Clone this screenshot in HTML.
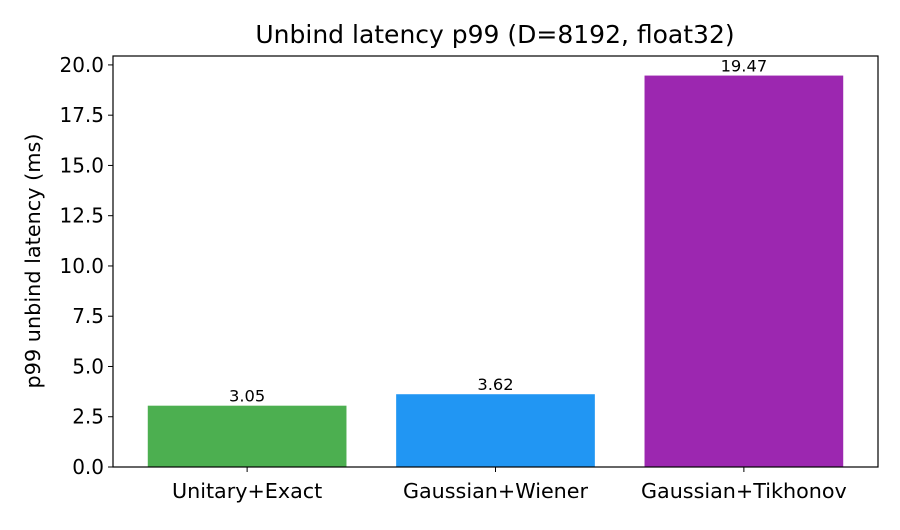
<!DOCTYPE html>
<html><head><meta charset="utf-8"><style>
body{margin:0;background:#fff}
svg text{font-family:"DejaVu Sans","Liberation Sans",sans-serif}
</style></head><body>
<svg id="chart" width="900" height="525" xmlns="http://www.w3.org/2000/svg">
<rect width="900" height="525" fill="#fff"/>
<text x="495" y="43" text-anchor="middle" font-size="25" fill="#000">Unbind latency p99 (D=8192, float32)</text>
<text transform="translate(40,261) rotate(-90)" text-anchor="middle" font-size="20.8" fill="#000">p99 unbind latency (ms)</text>
<g id="plot"></g>
<rect x="113" y="56" width="765" height="411" fill="none" stroke="#000" stroke-width="1.2"/>
</svg>
<script>
const categories = ["Unitary+Exact","Gaussian+Wiener","Gaussian+Tikhonov"];
const values = [3.05, 3.62, 19.47];
const valueLabels = ["3.05","3.62","19.47"];
const colors = ["#4caf50","#2196f3","#9c27b0"];
const yTicks = [0,2.5,5,7.5,10,12.5,15,17.5,20];
const yTickLabels = ["0.0","2.5","5.0","7.5","10.0","12.5","15.0","17.5","20.0"];

const L=113,R=878,T=56,B=467;
const ymax = Math.max(...values)*1.05;
const y = v => B - v/ymax*(B-T);
const xmin=-0.54, xmax=categories.length-1+0.54;
const x = i => L + (i-xmin)/(xmax-xmin)*(R-L);
const bw = 0.8*(R-L)/(xmax-xmin);
const ns="http://www.w3.org/2000/svg";
const g=document.getElementById('plot');
function mk(tag,attrs){const e=document.createElementNS(ns,tag);for(const k in attrs)e.setAttribute(k,attrs[k]);g.appendChild(e);return e;}
yTicks.forEach((t,i)=>{
  const yy=y(t);
  const l=mk('line',{x1:L-5,x2:L,y1:yy,y2:yy,stroke:'#000'});
  
  
  const tx=mk('text',{x:L-9,y:yy+7,'text-anchor':'end','font-size':'20',fill:'#000'});
  tx.textContent=yTickLabels[i];
  
  
});
categories.forEach((c,i)=>{
  const cx=x(i);
  const r=mk('rect',{x:cx-bw/2,y:y(values[i]),width:bw,height:B-y(values[i]),fill:colors[i]});
  
  
  const vl=mk('text',{x:cx,y:y(values[i])-4,'text-anchor':'middle','font-size':'16.3',fill:'#000'});
  vl.textContent=valueLabels[i];
  
  
  const tk=mk('line',{x1:cx,x2:cx,y1:B,y2:B+5,stroke:'#000'});
  
  
  const xl=mk('text',{x:cx,y:B+31,'text-anchor':'middle','font-size':'20.7',fill:'#000'});
  xl.textContent=c;
  
  
});
</script>
</body></html>
